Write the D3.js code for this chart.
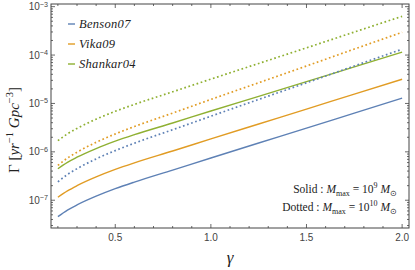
<!DOCTYPE html>
<html>
<head>
<meta charset="utf-8">
<script src="https://cdn.jsdelivr.net/npm/d3@7"></script>
<style>
  body { margin: 0; background: #fff; }
  svg { display: block; }
  .tick-label { font-family: "Liberation Sans", Arial, sans-serif; fill: #444; }
  .serif { font-family: "Liberation Serif", "Times New Roman", serif; fill: #222; }
</style>
</head>
<body>
<svg id="chart" width="415" height="270"></svg>
<script>
// gamma sample points
const gamma = [0.2, 0.25, 0.3, 0.4, 0.5, 0.6, 0.8, 1.0, 1.25, 1.5, 1.75, 2.0];

// Gamma rate, solid = Mmax 1e9, dotted = Mmax 1e10
const bensonSolid = [4.57e-8, 6.24e-8, 8.0e-8, 1.21e-7, 1.73e-7, 2.37e-7, 4.2e-7, 7.46e-7, 1.52e-6, 3.09e-6, 6.32e-6, 1.29e-5];
const vikaSolid = [1.15e-7, 1.56e-7, 2.0e-7, 3.03e-7, 4.33e-7, 5.92e-7, 1.04e-6, 1.85e-6, 3.76e-6, 7.63e-6, 1.56e-5, 3.16e-5];
const shankarSolid = [4.47e-7, 6.07e-7, 7.74e-7, 1.17e-6, 1.66e-6, 2.26e-6, 3.95e-6, 6.97e-6, 1.40e-5, 2.82e-5, 5.70e-5, 1.15e-4];
const bensonDotted = [2.40e-7, 3.40e-7, 4.48e-7, 7.14e-7, 1.06e-6, 1.51e-6, 2.86e-6, 5.45e-6, 1.21e-5, 2.67e-5, 5.96e-5, 1.32e-4];
const vikaDotted = [5.25e-7, 7.43e-7, 9.82e-7, 1.57e-6, 2.34e-6, 3.33e-6, 6.32e-6, 1.21e-5, 2.68e-5, 5.94e-5, 1.33e-4, 2.95e-4];
const shankarDotted = [1.70e-6, 2.35e-6, 3.05e-6, 4.73e-6, 6.87e-6, 9.55e-6, 1.74e-5, 3.18e-5, 6.70e-5, 1.41e-4, 2.99e-4, 6.31e-4];

const seriesNames = ["Benson07", "Vika09", "Shankar04"];
const xTicks = [0.5, 1.0, 1.5, 2.0];
const yExponents = [-3, -4, -5, -6, -7];

const colors = ["#5E81B5", "#E19C24", "#8FB032"];

const margin = { top: 4, right: 6, bottom: 42, left: 51 };
const width = 415 - margin.left - margin.right;
const height = 270 - margin.top - margin.bottom;

const svg = d3.select("#chart");
const g = svg.append("g").attr("transform", `translate(${margin.left},${margin.top})`);

const x = d3.scaleLinear().domain([0.164, 2.036]).range([0, width]);
const y = d3.scaleLog().domain([Math.pow(10, -7.574), Math.pow(10, -2.945)]).range([height, 0]);

g.append("clipPath").attr("id", "plotclip")
  .append("rect").attr("width", width).attr("height", height);

const line = d3.line()
  .x((d, i) => x(gamma[i]))
  .y(d => y(d))
  .curve(d3.curveMonotoneX);

const solid = [bensonSolid, vikaSolid, shankarSolid];
const dotted = [bensonDotted, vikaDotted, shankarDotted];

const plot = g.append("g").attr("clip-path", "url(#plotclip)");

solid.forEach((s, i) => {
  plot.append("path").datum(s)
    .attr("d", line)
    .attr("fill", "none")
    .attr("stroke", colors[i])
    .attr("stroke-width", 1.4);
});
dotted.forEach((s, i) => {
  plot.append("path").datum(s)
    .attr("d", line)
    .attr("fill", "none")
    .attr("stroke", colors[i])
    .attr("stroke-width", 1.7)
    .attr("stroke-dasharray", "1.7,2.6");
});

// frame with ticks on all sides
const frameColor = "#444";
g.append("rect")
  .attr("width", width).attr("height", height)
  .attr("fill", "none").attr("stroke", frameColor).attr("stroke-width", 1);

const xMinor = d3.range(0.2, 2.01, 0.1).map(v => +v.toFixed(2)).filter(v => !xTicks.some(t => Math.abs(t - v) < 1e-6));
const yMinor = [];
for (let e = -8; e <= -3; e++) {
  for (let k = 2; k <= 9; k++) {
    const v = k * Math.pow(10, e);
    if (v >= y.domain()[0] && v <= y.domain()[1]) yMinor.push(v);
  }
}

const tickG = g.append("g").attr("stroke", frameColor).attr("stroke-width", 0.8);
function xTick(v, len) {
  tickG.append("line").attr("x1", x(v)).attr("x2", x(v)).attr("y1", height).attr("y2", height - len);
  tickG.append("line").attr("x1", x(v)).attr("x2", x(v)).attr("y1", 0).attr("y2", len);
}
function yTick(v, len) {
  tickG.append("line").attr("y1", y(v)).attr("y2", y(v)).attr("x1", 0).attr("x2", len);
  tickG.append("line").attr("y1", y(v)).attr("y2", y(v)).attr("x1", width).attr("x2", width - len);
}
xTicks.forEach(v => xTick(v, 4));
xMinor.forEach(v => xTick(v, 2));
yExponents.forEach(e => yTick(Math.pow(10, e), 4));
yMinor.forEach(v => yTick(v, 2));

// x tick labels
xTicks.forEach(v => {
  g.append("text").attr("class", "tick-label")
    .attr("x", x(v)).attr("y", height + 13)
    .attr("text-anchor", "middle")
    .attr("font-size", 10)
    .text(d3.format(".1f")(v));
});

// y tick labels 10^e
yExponents.forEach(e => {
  const t = g.append("text").attr("class", "tick-label")
    .attr("x", -3).attr("y", y(Math.pow(10, e)) + 3.5)
    .attr("text-anchor", "end")
    .attr("font-size", 10);
  t.append("tspan").text("10");
  t.append("tspan").attr("dy", -3.5).attr("font-size", 7.2).text("\u2212" + Math.abs(e));
});

// x axis label
g.append("text").attr("class", "serif")
  .attr("x", width / 2).attr("y", height + 35)
  .attr("text-anchor", "middle")
  .attr("font-size", 17).attr("font-style", "italic")
  .text("\u03b3");

// y axis label
const yl = svg.append("text").attr("class", "serif")
  .attr("transform", `translate(19,${margin.top + height / 2 + 14}) rotate(-90)`)
  .attr("text-anchor", "middle")
  .attr("font-size", 15);
yl.append("tspan").text("\u0393 [");
yl.append("tspan").attr("font-style", "italic").text("yr");
yl.append("tspan").attr("dy", -6).attr("font-size", 10.5).text("\u22121");
yl.append("tspan").attr("dy", 6).text(" ");
yl.append("tspan").attr("font-style", "italic").text("Gpc");
yl.append("tspan").attr("dy", -6).attr("font-size", 10.5).text("\u22123");
yl.append("tspan").attr("dy", 6).text("]");

// legend
const legend = g.append("g").attr("transform", "translate(17,20)");
seriesNames.forEach((name, i) => {
  const row = legend.append("g").attr("transform", `translate(0,${i * 20})`);
  row.append("line").attr("x1", 0).attr("x2", 7).attr("y1", 0).attr("y2", 0)
    .attr("stroke", colors[i]).attr("stroke-width", 1.4);
  row.append("text").attr("class", "serif")
    .attr("x", 11).attr("y", 4)
    .attr("font-size", 12.5).attr("font-style", "italic")
    .attr("letter-spacing", 0.3)
    .text(name);
});

// annotation
function note(yPos, label, exp) {
  const t = g.append("text").attr("class", "serif")
    .attr("x", width - 12).attr("y", yPos)
    .attr("text-anchor", "end")
    .attr("font-size", 11.5);
  t.append("tspan").text(label + " : ");
  t.append("tspan").attr("font-style", "italic").text("M");
  t.append("tspan").attr("dy", 2.5).attr("font-size", 8).text("max");
  t.append("tspan").attr("dy", -2.5).text(" = 10");
  t.append("tspan").attr("dy", -5).attr("font-size", 8).text(exp);
  t.append("tspan").attr("dy", 5).attr("font-style", "italic").text(" M");
  t.append("tspan").attr("dy", 2.5).attr("font-size", 8).text("\u2299");
}
note(189, "Solid", "9");
note(207, "Dotted", "10");
</script>
</body>
</html>
